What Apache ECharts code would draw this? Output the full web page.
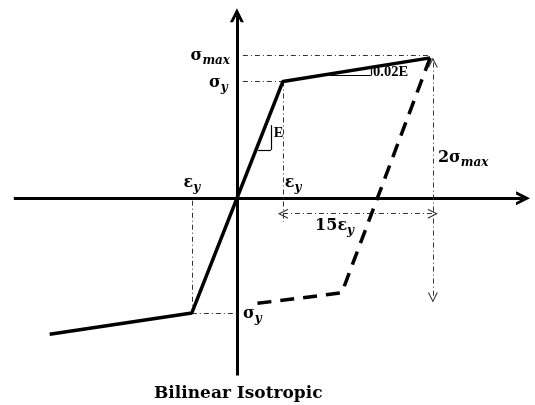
<!DOCTYPE html>
<html>
<head>
<meta charset="utf-8">
<script src="https://cdn.jsdelivr.net/npm/echarts@6/dist/echarts.min.js"></script>
<style>
  html, body { margin: 0; padding: 0; background: #fff; }
  #chart { width: 535px; height: 405px; }
</style>
</head>
<body>
<div id="chart"></div>
<script>
// strain in units of eps_y, stress in units of sigma_y (schematic)
const epsY = 1.0;
const sigY = 0.99;
const sigMax = 1.21;
const peakStrain = 4.2;
const arrowStrain = 4.26;

const loadStrain = [-4.07, -0.98, 0, 1.0, 4.2];
const loadStress = [-1.15, -0.97, 0, 0.99, 1.19];

const unloadStrain = [4.2, 2.28, 0.43];
const unloadStress = [1.19, -0.8, -0.89];

const labelText = ["σmax", "σy", "εy", "εy", "2σmax", "15εy", "σy", "E", "0.02E"];
const labelX = [-0.15, -0.2, -0.98, 1.04, 4.37, 1.7, 0.13, 0.8, 2.96];
const labelY = [1.21, 0.98, 0.13, 0.13, 0.34, -0.23, -0.98, 0.55, 1.07];

const chart = echarts.init(document.getElementById("chart"));

const serif = "DejaVu Serif";
const ink = "#000";
const chevron = "path://M0,10 L5,0 L10,10 L8.8,10 L5,2.4 L1.2,10 Z";
const bigArrow = "path://M0,10 L5,0 L10,10 L7.7,10 L5,4.6 L2.3,10 Z";

const zip = (xs, ys) => xs.map((x, i) => [x, ys[i]]);

// dash-dot guide lines
const guides = [
  [[0.13, sigMax], [peakStrain, sigMax]],
  [[0.13, sigY], [epsY, sigY]],
  [[epsY, sigY], [epsY, -0.2]],
  [[-0.98, -0.02], [-0.98, -0.97]],
  [[-0.98, -0.97], [0, -0.97]],
];

// small slope triangles
const triangles = [
  [[0.46, 0.41], [0.74, 0.41]],
  [[0.74, 0.41], [0.74, 0.62]],
  [[2.02, 1.04], [2.91, 1.04]],
  [[2.91, 1.04], [2.91, 1.1]],
];

function labelFor(t) {
  const m = t.match(/^(\d*)([σε])(\w+)$/);
  if (m) return (m[1] ? "{n|" + m[1] + "}" : "") + "{g|" + m[2] + "}{s|" + m[3] + "}";
  return "{t|" + t + "}";
}
const alignOf = ["right", "right", "center", "left", "left", "left", "left", "left", "left"];

const plain = { color: ink, opacity: 1, textBorderWidth: 0, textShadowBlur: 0 };

const option = {
  animation: false,
  title: {
    text: "Bilinear Isotropic",
    left: 149,
    top: 380,
    textStyle: { fontFamily: serif, fontWeight: "bold", fontSize: 17, color: ink },
  },
  grid: { left: 0, right: 0, top: 0, bottom: 0 },
  xAxis: { type: "value", min: -5.15, max: 6.48, show: false },
  yAxis: { type: "value", min: -1.75, max: 1.68, show: false },
  series: [
    {
      type: "lines",
      coordinateSystem: "cartesian2d",
      symbol: ["none", bigArrow],
      symbolSize: 14,
      lineStyle: { color: "#000", width: 3, opacity: 1 },
      data: [
        { coords: [[-4.85, 0], [6.22, 0]] },
        { coords: [[0, -1.5], [0, 1.55]] },
      ],
      z: 2,
    },
    {
      type: "lines",
      coordinateSystem: "cartesian2d",
      symbol: ["none", "none"],
      lineStyle: { color: "#333", width: 1, type: [5, 3, 1, 3], opacity: 1 },
      data: guides.map((c) => ({ coords: c })),
    },
    {
      type: "lines",
      coordinateSystem: "cartesian2d",
      symbol: [chevron, chevron],
      symbolSize: 10,
      lineStyle: { color: "#333", width: 1, type: [5, 3, 1, 3], opacity: 1 },
      data: [
        { coords: [[arrowStrain, 1.15], [arrowStrain, -0.84]] },
        { coords: [[epsY, -0.13], [arrowStrain, -0.13]] },
      ],
    },
    {
      type: "lines",
      coordinateSystem: "cartesian2d",
      symbol: ["none", "none"],
      lineStyle: { color: "#000", width: 1.2, opacity: 1 },
      data: triangles.map((c) => ({ coords: c })),
    },
    {
      type: "line",
      data: zip(loadStrain, loadStress),
      symbol: "none",
      lineStyle: { color: "#000", width: 3.5 },
      z: 3,
    },
    {
      type: "line",
      data: zip(unloadStrain, unloadStress),
      symbol: "none",
      lineStyle: { color: "#000", width: 3.5, type: [14, 9] },
      z: 3,
    },
    {
      type: "scatter",
      symbolSize: 1,
      itemStyle: { color: "#fff", opacity: 1 },
      data: labelX.map((x, i) => ({
        value: [x, labelY[i]],
        label: {
          show: true,
          position: "inside",
          align: alignOf[i],
          verticalAlign: "middle",
          ...plain,
          formatter: labelFor(labelText[i]),
          rich: {
            g: { ...plain, fontFamily: serif, fontWeight: "bold", fontSize: 16 },
            n: { ...plain, fontFamily: serif, fontWeight: "bold", fontSize: 16 },
            s: { ...plain, fontFamily: serif, fontWeight: "bold", fontStyle: "italic", fontSize: 12, padding: [10, 0, 0, 0] },
            t: { ...plain, fontFamily: "Liberation Serif", fontWeight: "bold", fontSize: 14.5 },
          },
        },
      })),
      z: 5,
    },
  ],
};

chart.setOption(option);
</script>
</body>
</html>
